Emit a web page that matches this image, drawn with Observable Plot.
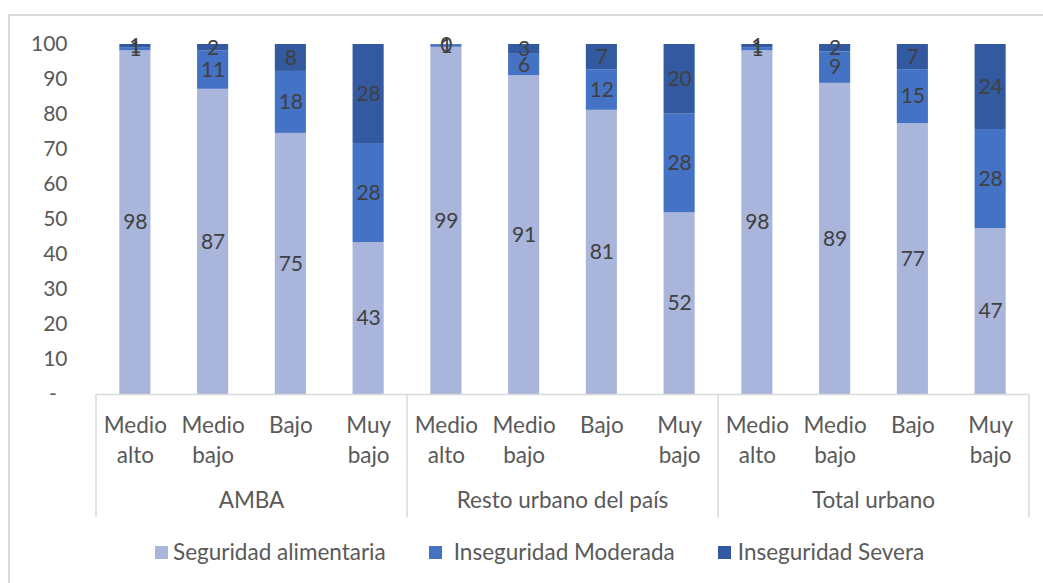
<!DOCTYPE html>
<html>
<head>
<meta charset="utf-8">
<script src="https://cdn.jsdelivr.net/npm/d3@7"></script>
<script src="https://cdn.jsdelivr.net/npm/@observablehq/plot@0.6"></script>
<style>
  html, body { margin: 0; padding: 0; background: white; overflow: hidden; }
  #wrap { position: relative; width: 1043px; height: 583px; font-family: Lato, sans-serif; }
  #chart { position: absolute; left: 0; top: 0; }
  #frame { position: absolute; left: 8px; top: 14px; width: 1200px; height: 700px;
           border-left: 2px solid #d9d9d9; border-top: 2px solid #d9d9d9; pointer-events: none; }
  #legend { position: absolute; left: 155px; top: 539px; display: flex; gap: 43px;
            font-size: 22.5px; color: #595959; line-height: 26px; }
  .item { display: flex; align-items: center; gap: 5px; white-space: nowrap; }
  .item:nth-child(2) { gap: 12px; }
  .item:nth-child(3) { gap: 7px; }
  .sw { width: 13px; height: 13px; display: inline-block; }
</style>
</head>
<body>
<div id="wrap">
  <div id="chart"></div>
  <div id="legend"></div>
  <div id="frame"></div>
</div>
<script>
const groups = ["AMBA", "Resto urbano del país", "Total urbano"];
const categories = ["Medio alto", "Medio bajo", "Bajo", "Muy bajo"];
const categoryLabels = ["Medio\nalto", "Medio\nbajo", "Bajo", "Muy\nbajo"];
const series = ["Seguridad alimentaria", "Inseguridad Moderada", "Inseguridad Severa"];
const colors = ["#A9B5DB", "#4472C4", "#335AA1"];
// values in order: AMBA (4 cats), Resto urbano (4), Total urbano (4)
const seguridad = [98.2, 87.2, 74.6, 43.4, 99.2, 91.1, 81.2, 51.9, 98.2, 88.9, 77.4, 47.4];
const moderada  = [0.9, 10.9, 17.7, 28.3, 0.6, 6.1, 11.6, 28.2, 0.9, 9.0, 15.4, 28.3];
const severa    = [0.9, 1.9, 7.7, 28.3, 0.2, 2.8, 7.2, 19.9, 0.9, 2.1, 7.2, 24.3];
const yTicks = [0, 10, 20, 30, 40, 50, 60, 70, 80, 90, 100];

const seriesValues = [seguridad, moderada, severa];
const keys = [];
const keyLabel = new Map();
const data = [];
groups.forEach((g, gi) => categories.forEach((c, ci) => {
  const i = gi * categories.length + ci;
  const key = g + "|" + c;
  keys.push(key);
  keyLabel.set(key, categoryLabels[ci]);
  series.forEach((s, si) => data.push({group: g, cat: c, key, serie: s, value: seriesValues[si][i]}));
}));

function groupAxis(index, scales, values, dims) {
  const x = scales.x;
  const bw = typeof x.bandwidth === "function" ? x.bandwidth() : scales.scales.x.bandwidth;
  const step = x(keys[1]) - x(keys[0]);
  const y0 = dims.height - dims.marginBottom;
  const g = d3.create("svg:g");
  const n = categories.length;
  groups.forEach((grp, gi) => {
    const left = x(keys[gi * n]) + bw / 2 - step / 2;
    const right = x(keys[gi * n + n - 1]) + bw / 2 + step / 2;
    g.append("line").attr("x1", left).attr("x2", left).attr("y1", y0).attr("y2", y0 + 123)
      .attr("stroke", "#d9d9d9").attr("stroke-width", 1.5);
    if (gi === groups.length - 1) {
      g.append("line").attr("x1", right).attr("x2", right).attr("y1", y0).attr("y2", y0 + 123)
        .attr("stroke", "#d9d9d9").attr("stroke-width", 1.5);
    }
    g.append("text").attr("x", (left + right) / 2).attr("y", y0 + 114)
      .attr("text-anchor", "middle").attr("fill", "#595959").attr("font-size", "22.5px").text(grp);
  });
  return g.node();
}

const chart = Plot.plot({
  width: 1043, height: 530,
  marginLeft: 96, marginRight: 14, marginTop: 44, marginBottom: 136,
  style: {fontFamily: "Lato, sans-serif", fontSize: "21px", color: "#595959", background: "transparent", overflow: "visible"},
  x: {type: "band", domain: keys, paddingInner: 0.6, paddingOuter: 0.3, round: false, axis: null},
  y: {domain: [0, 100], axis: null},
  color: {domain: series, range: colors},
  marks: [
    Plot.barY(data, {x: "key", y: "value", fill: "serie", z: "serie"}),
    Plot.text(data, Plot.stackY({x: "key", y: "value", z: "serie", text: d => String(Math.round(d.value)), fill: "#404040"})),
    Plot.axisY({ticks: yTicks, label: null, tickSize: 0, tickPadding: 29, tickFormat: d => d === 0 ? "-\u00A0\u00A0" : String(d), fill: "#595959"}),
    Plot.ruleY([0], {stroke: "#d9d9d9", strokeWidth: 1.5}),
    Plot.text(keys, {x: d => d, text: d => keyLabel.get(d), frameAnchor: "bottom", lineAnchor: "top", dy: 18, lineHeight: 1.3, fontSize: 22.5, fill: "#595959"}),
    groupAxis
  ]
});
document.getElementById("chart").appendChild(chart);

const legend = document.getElementById("legend");
series.forEach((s, i) => {
  const item = document.createElement("div");
  item.className = "item";
  const sw = document.createElement("span");
  sw.className = "sw";
  sw.style.background = colors[i];
  const t = document.createElement("span");
  t.textContent = s;
  item.appendChild(sw);
  item.appendChild(t);
  legend.appendChild(item);
});
</script>
</body>
</html>
